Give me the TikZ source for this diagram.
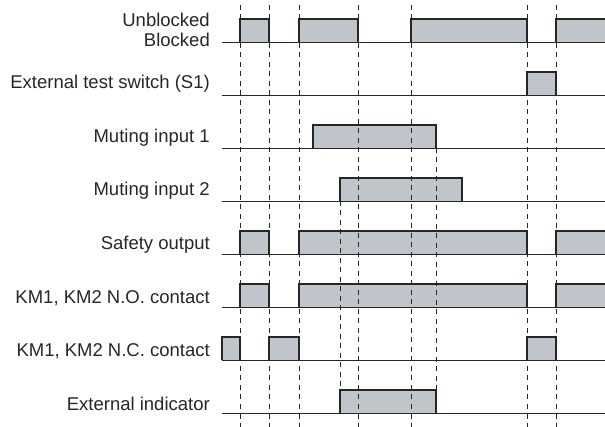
\documentclass[tikz,border=0pt]{standalone}
\usepackage{fontspec}
\setmainfont{Liberation Sans}
\definecolor{pulse}{RGB}{192,196,203}
\definecolor{ink}{RGB}{38,38,38}
\begin{document}
\begin{tikzpicture}[x=1pt,y=-1pt,
  lbl/.style={anchor=base east,font=\fontsize{18.5}{20}\selectfont,text=ink,inner sep=0pt},
  sig/.style={draw=ink,line width=1.3pt,line join=miter},
  baseln/.style={draw=ink,line width=0.9pt},
  guide/.style={draw=ink,dash pattern=on 5pt off 4.5pt,line width=0.9pt},
  hi/.style={fill=pulse}]
\useasboundingbox (0,0) rectangle (605,427);
% pulse fills
\foreach \y/\ps in {42/{240/269,299/358,411/527,556/612},
                    95/{527/556},
                    148/{313/436},
                    201/{340/462},
                    254/{240/269,299/527,556/612},
                    307/{240/269,299/527,556/612},
                    360/{222/240,269/299,527/556},
                    413/{340/436}}{
  \foreach \a/\b in \ps {\fill[hi] (\a,\y) rectangle (\b,\y-23);}
}
% dashed timing guides
\foreach \x in {240,269,299,358,411,527,556}{
  \draw[guide] (\x,5) -- (\x,427);
}
\draw[guide] (340,201) -- (340,390);
\draw[guide] (436,148) -- (436,390);
% baselines and pulse outlines
\foreach \y/\ps in {42/{240/269,299/358,411/527,556/612},
                    95/{527/556},
                    148/{313/436},
                    201/{340/462},
                    254/{240/269,299/527,556/612},
                    307/{240/269,299/527,556/612},
                    360/{222/240,269/299,527/556},
                    413/{340/436}}{
  \draw[baseln] (222,\y) -- (612,\y);
  \foreach \a/\b in \ps {\draw[sig] (\a,\y) -- (\a,\y-23) -- (\b,\y-23) -- (\b,\y);}
}
% labels
\node[lbl] (l1a) at (210,27) {Unblocked};
\node[lbl] (l1b) at (210,47) {Blocked};
\node[lbl] (l2) at (210,89) {External test switch (S1)};
\node[lbl] (l3) at (210,143) {Muting input 1};
\node[lbl] (l4) at (210,196) {Muting input 2};
\node[lbl] (l5) at (210,250) {Safety output};
\node[lbl] (l6) at (210,304) {KM1, KM2 N.O. contact};
\node[lbl] (l7) at (210,357) {KM1, KM2 N.C. contact};
\node[lbl] (l8) at (210,410) {External indicator};
\end{tikzpicture}
\end{document}
